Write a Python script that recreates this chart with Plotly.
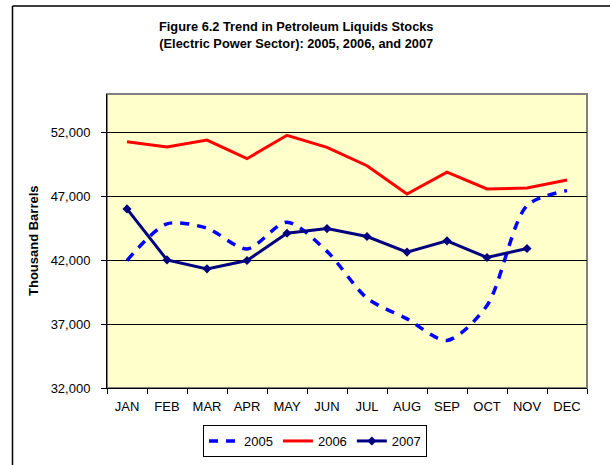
import plotly.graph_objects as go

months = ["JAN", "FEB", "MAR", "APR", "MAY", "JUN", "JUL", "AUG", "SEP", "OCT", "NOV", "DEC"]
stocks_2005 = [41970, 44840, 44500, 42880, 44970, 42690, 39030, 37410, 35720, 38450, 46270, 47440]
stocks_2006 = [51270, 50850, 51400, 49940, 51770, 50830, 49390, 47180, 48880, 47570, 47650, 48270]
stocks_2007 = [46010, 42020, 41320, 41970, 44110, 44470, 43850, 42630, 43510, 42210, 42910]
y_ticks = [32000, 37000, 42000, 47000, 52000]

FONT = "Liberation Sans, Arial, sans-serif"

# pixel geometry helpers
L, R, T, B = 107, 587, 94, 388
W, H = R - L, B - T


def px(x):
    return (x - L) / W


def py(y):
    return (B - y) / H


fig = go.Figure()
fig.add_trace(go.Scatter(
    x=months, y=stocks_2005, name="2005", mode="lines",
    line=dict(color="#0000FF", width=3.5, dash="9px,8px", shape="spline", smoothing=0.8),
))
fig.add_trace(go.Scatter(
    x=months, y=stocks_2006, name="2006", mode="lines",
    line=dict(color="#FF0000", width=3),
))
fig.add_trace(go.Scatter(
    x=months[:len(stocks_2007)], y=stocks_2007, name="2007", mode="lines+markers",
    line=dict(color="#000080", width=3),
    marker=dict(symbol="diamond", size=7, color="#000080"),
))

shapes = [
    # plot-area gray frame
    dict(type="rect", xref="paper", yref="paper", x0=0, x1=1, y0=0, y1=1,
         line=dict(color="#808080", width=2), layer="below"),
    # outer chart border (left and top)
    dict(type="line", xref="paper", yref="paper", x0=px(12.5), x1=px(12.5), y0=py(470), y1=py(6),
         line=dict(color="black", width=1.5)),
    dict(type="line", xref="paper", yref="paper", x0=px(12.5), x1=px(620), y0=py(6), y1=py(6),
         line=dict(color="black", width=1.5)),
]

annotations = [
    dict(text="<b>Figure 6.2 Trend in Petroleum Liquids Stocks<br>(Electric Power Sector): 2005, 2006, and 2007</b>",
         xref="paper", yref="paper", x=px(296), y=py(35), xanchor="center", yanchor="middle",
         showarrow=False, font=dict(family=FONT, size=12.8, color="black"), align="center"),
    dict(text="<b>Thousand Barrels</b>", textangle=-90,
         xref="paper", yref="paper", x=px(33), y=py(241), xanchor="center", yanchor="middle",
         showarrow=False, font=dict(family=FONT, size=13, color="black")),
]

fig.update_layout(
    width=610, height=465,
    margin=dict(l=L, r=610 - R, t=T, b=465 - B, autoexpand=False),
    paper_bgcolor="white",
    plot_bgcolor="#FFFFCC",
    font=dict(family=FONT, size=13, color="black"),
    showlegend=True,
    legend=dict(orientation="h", x=px(315), y=py(425), xanchor="center", yanchor="top",
                bordercolor="black", borderwidth=1, bgcolor="white",
                font=dict(family=FONT, size=13), itemwidth=30, tracegroupgap=0),
    shapes=shapes,
    annotations=annotations,
    xaxis=dict(type="category", categoryorder="array", categoryarray=months,
               showgrid=False, showline=True, linecolor="black", linewidth=1,
               ticks="outside", ticklen=5, tickcolor="black", tickson="boundaries",
               ticklabelstandoff=6, tickfont=dict(family=FONT, size=13),
               range=[-0.5, 11.5], zeroline=False, automargin=False),
    yaxis=dict(range=[32000, 55000], tickvals=y_ticks, tickformat=",",
               showgrid=True, gridcolor="black", gridwidth=1,
               showline=True, linecolor="black", linewidth=1,
               ticks="outside", ticklen=5, tickcolor="black",
               ticklabelstandoff=8, tickfont=dict(family=FONT, size=13), zeroline=False,
               automargin=False),
)

fig.write_html("out.html", config={"displayModeBar": False},
               post_script="document.body.style.margin='0';document.body.style.overflow='hidden';")
